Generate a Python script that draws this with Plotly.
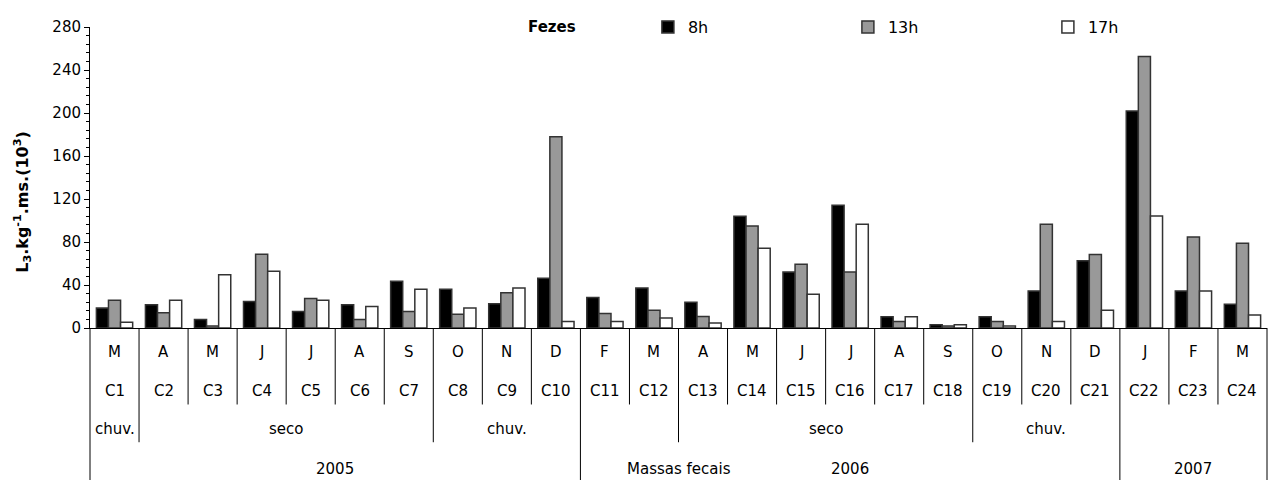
import plotly.graph_objects as go

months = ["M", "A", "M", "J", "J", "A", "S", "O", "N", "D", "F", "M",
          "A", "M", "J", "J", "A", "S", "O", "N", "D", "J", "F", "M"]
cycles = ["C1", "C2", "C3", "C4", "C5", "C6", "C7", "C8", "C9", "C10", "C11", "C12",
          "C13", "C14", "C15", "C16", "C17", "C18", "C19", "C20", "C21", "C22", "C23", "C24"]

h8 = [18.5, 21.6, 8.0, 24.7, 15.4, 21.6, 43.4, 36.0, 22.5, 46.2, 28.3, 37.2,
      24.0, 104.0, 52.0, 114.2, 10.4, 3.0, 10.4, 34.5, 62.5, 201.8, 34.5, 22.2]
h13 = [25.9, 14.2, 1.8, 68.7, 27.4, 8.0, 15.4, 12.7, 32.9, 178.0, 13.5, 16.6,
       10.7, 94.8, 59.4, 52.0, 6.1, 1.8, 6.1, 96.4, 68.4, 252.6, 84.7, 78.8]
h17 = [5.3, 25.9, 49.6, 52.7, 25.9, 20.0, 36.0, 18.5, 37.2, 6.1, 6.1, 9.2,
       4.6, 74.2, 31.4, 96.4, 10.4, 3.0, 1.8, 6.1, 16.6, 104.1, 34.5, 12.0]

# (label, first index, last index)
seasons = [("chuv.", 0, 0), ("seco", 1, 6), ("chuv.", 7, 9), ("", 10, 11),
           ("seco", 12, 17), ("chuv.", 18, 20), ("", 21, 23)]
years = [("2005", 0, 9), ("2006", 10, 20), ("2007", 21, 23)]

series_names = ["8h", "13h", "17h"]
series_colors = ["#000000", "#999999", "#ffffff"]
x_title = "Massas fecais"
y_title = "<b>L<sub>3</sub>.kg<sup>-1</sup>.ms.(10<sup>3</sup>)</b>"
legend_title = "Fezes"

FONT = "DejaVu Sans, Arial, sans-serif"
idx = list(range(len(cycles)))

fig = go.Figure()
for name, vals, col in zip(series_names, [h8, h13, h17], series_colors):
    fig.add_trace(go.Bar(x=idx, y=vals, name=name,
                         marker=dict(color=col, line=dict(color="#333333", width=1.5))))

# pixel geometry helpers (plot area 1176.7 x 303 px)
PH = 303.0
PW = 1176.7
def py(pix_below_axis):
    return -pix_below_axis / PH

row_month, row_cyc, row_season, row_year = py(24), py(63.5), py(102), py(142)
end_short, end_mid, end_long = py(77), py(115), py(160)

shapes = []
season_bounds = set(s[1] for s in seasons)
year_bounds = set(y[1] for y in years)
for k in range(1, len(cycles)):
    if k in year_bounds:
        y1 = end_long
    elif k in season_bounds:
        y1 = end_mid
    else:
        y1 = end_short
    shapes.append(dict(type="line", xref="x", yref="paper", x0=k - 0.5, x1=k - 0.5,
                       y0=0, y1=y1, line=dict(color="#000000", width=1)))
for xp in (0, 1):
    shapes.append(dict(type="line", xref="paper", yref="paper", x0=xp, x1=xp,
                       y0=0, y1=end_long, line=dict(color="#000000", width=1)))

annotations = []
tf = dict(family=FONT, size=15, color="#000000")
for i in idx:
    annotations.append(dict(x=i, y=row_month, xref="x", yref="paper", text=months[i],
                            showarrow=False, font=tf, yanchor="middle"))
    annotations.append(dict(x=i, y=row_cyc, xref="x", yref="paper", text=cycles[i],
                            showarrow=False, font=tf, yanchor="middle"))
for lab, a, b in seasons:
    if lab:
        annotations.append(dict(x=(a + b) / 2, y=row_season, xref="x", yref="paper", text=lab,
                                showarrow=False, font=tf, yanchor="middle"))
for lab, a, b in years:
    annotations.append(dict(x=(a + b) / 2, y=row_year, xref="x", yref="paper", text=lab,
                            showarrow=False, font=tf, yanchor="middle"))
annotations.append(dict(x=0.5, y=row_year, xref="paper", yref="paper", text=x_title,
                        showarrow=False, font=tf, yanchor="middle"))
annotations.append(dict(x=0.3926, y=1.0, xref="paper", yref="paper",
                        text="<b>" + legend_title + "</b>", showarrow=False,
                        font=dict(family=FONT, size=15, color="#000000"), yanchor="middle"))
annotations.append(dict(x=-67 / PW, y=127 / PH, xref="paper", yref="paper", text=y_title,
                        textangle=-90, showarrow=False, xanchor="center", yanchor="middle",
                        font=dict(family=FONT, size=16, color="#000000")))

fig.update_layout(
    width=1277, height=480,
    margin=dict(l=90, r=10, t=25, b=152),
    paper_bgcolor="white", plot_bgcolor="white",
    barmode="group", bargap=0.26, bargroupgap=0,
    font=dict(family=FONT, size=15, color="#000000"),
    showlegend=True,
    legend=dict(orientation="h", x=0.474, xanchor="left", y=1.0, yanchor="middle",
                entrywidth=155, font=dict(family=FONT, size=16, color="#000000"),
                bgcolor="rgba(0,0,0,0)", traceorder="normal"),
    xaxis=dict(range=[-0.5, 23.5], showticklabels=False, showgrid=False, zeroline=False,
               showline=True, linecolor="#000000", linewidth=1, ticks=""),
    yaxis=dict(range=[0, 280], dtick=40, tick0=0, showgrid=False, zeroline=False,
               showline=True, linecolor="#000000", linewidth=1,
               ticks="outside", ticklen=5, tickcolor="#000000",
               tickfont=dict(family=FONT, size=15, color="#000000"),
               minor=dict(dtick=8, ticks="outside", ticklen=3, tickcolor="#000000")),
    shapes=shapes, annotations=annotations,
)

fig.write_html("out.html")
